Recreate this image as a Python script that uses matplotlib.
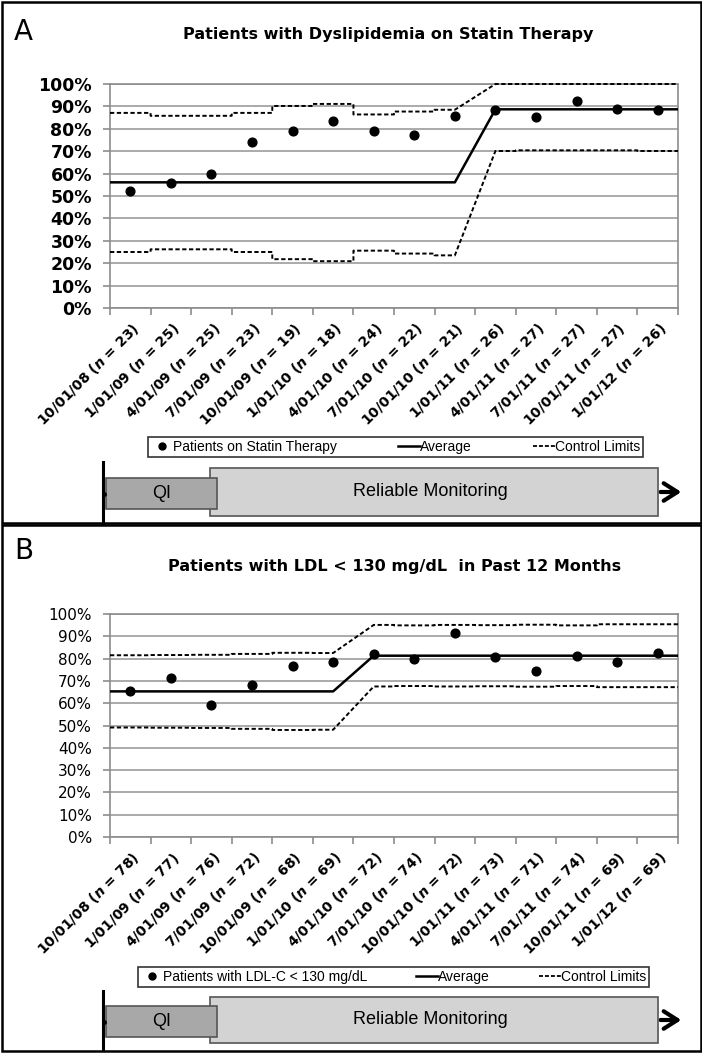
import matplotlib
matplotlib.use('Agg')
import matplotlib.pyplot as plt
import matplotlib.transforms as mtransforms
from matplotlib.patches import Rectangle
from matplotlib.lines import Line2D

plt.rcParams['mathtext.fontset'] = 'custom'
plt.rcParams['mathtext.it'] = 'DejaVu Sans:italic:bold'
plt.rcParams['mathtext.rm'] = 'DejaVu Sans:bold'

W, H = 702, 1053

# quarter start dates shared by both panels
dates = ['10/01/08', '1/01/09', '4/01/09', '7/01/09', '10/01/09', '1/01/10', '4/01/10',
         '7/01/10', '10/01/10', '1/01/11', '4/01/11', '7/01/11', '10/01/11', '1/01/12']

# panel A - statin therapy
n_a = [23, 25, 25, 23, 19, 18, 24, 22, 21, 26, 27, 27, 27, 26]
pct_a = [52.2, 56.0, 60.0, 73.9, 78.9, 83.3, 79.2, 77.3, 85.7, 88.5, 85.2, 92.6, 88.9, 88.5]
avg_a = [56.1] * 9 + [88.7] * 5
ucl_a = [87.1, 85.8, 85.8, 87.1, 90.2, 91.1, 86.4, 87.7, 88.5, 100, 100, 100, 100, 100]
lcl_a = [25.0, 26.2, 26.2, 25.0, 21.8, 20.9, 25.6, 24.3, 23.5, 70.1, 70.4, 70.4, 70.4, 70.1]
phase_a = [1] * 9 + [2] * 5

# panel B - LDL < 130
n_b = [78, 77, 76, 72, 68, 69, 72, 74, 72, 73, 71, 74, 69, 69]
pct_b = [65.4, 71.4, 59.2, 68.1, 76.5, 78.3, 81.9, 79.7, 91.7, 80.8, 74.6, 81.1, 78.3, 82.6]
avg_b = [65.3] * 6 + [81.3] * 8
ucl_b = [81.5, 81.6, 81.7, 82.1, 82.6, 82.5, 95.1, 94.9, 95.1, 95.0, 95.2, 94.9, 95.4, 95.4]
lcl_b = [49.1, 49.0, 48.9, 48.5, 48.0, 48.1, 67.5, 67.7, 67.5, 67.6, 67.4, 67.7, 67.2, 67.2]
phase_b = [1] * 6 + [2] * 8


def fx(px):
    return px / W


def fy(py):
    return 1 - py / H


def step_path(values, phases):
    """Horizontal run per category, slanted between phase centres"""
    xs, ys = [], []
    n = len(values)
    for i, v in enumerate(values):
        first = i == 0 or phases[i] != phases[i - 1]
        last = i == n - 1 or phases[i] != phases[i + 1]
        left = i + 0.5 if (first and i > 0) else i
        right = i + 0.5 if (last and i < n - 1) else i + 1
        xs += [left, right]
        ys += [v, v]
    return xs, ys


def draw_panel(fig, cfg):
    ax = fig.add_axes(cfg['rect'])
    ncat = len(dates)
    centers = [i + 0.5 for i in range(ncat)]

    for vals in (cfg['ucl'], cfg['lcl']):
        xs, ys = step_path(vals, cfg['phase'])
        ax.plot(xs, ys, color='k', ls='--', lw=1.4, dashes=(2.2, 1.3), clip_on=False, zorder=3)
    xs, ys = step_path(cfg['avg'], cfg['phase'])
    ax.plot(xs, ys, color='k', lw=1.8, zorder=4)
    ax.plot(centers, cfg['pct'], 'o', color='k', ms=6.3, ls='none', zorder=5, clip_on=False)

    ax.set_xlim(0, ncat)
    ax.set_ylim(0, 100)
    ax.set_yticks(range(0, 101, 10))
    ax.set_yticklabels([f'{v}%' for v in range(0, 101, 10)])
    ax.yaxis.grid(True, color='#9c9c9c', lw=1.2)
    ax.set_axisbelow(True)
    ax.set_xticks(centers)
    ax.set_xticklabels([f'{d} ($n$ = {k})' for d, k in zip(dates, cfg['n'])],
                       rotation=45, ha='right', va='top', rotation_mode='anchor',
                       fontsize=10, fontweight='bold')
    ax.set_xticks(range(ncat + 1), minor=True)
    ax.tick_params(axis='x', which='major', length=0, pad=9)
    ax.tick_params(axis='x', which='minor', length=5, color='#8c8c8c', width=1.2)
    ax.tick_params(axis='y', length=5, color='#8c8c8c', width=1.2, pad=8,
                   labelsize=cfg['ysize'])
    for lab in ax.get_yticklabels():
        lab.set_fontweight(cfg['yweight'])
    for sp in ax.spines.values():
        sp.set_color('#8c8c8c')
        sp.set_linewidth(1.2)

    fig.text(cfg['title_xy'][0], cfg['title_xy'][1], cfg['title'], ha='center', va='center',
             fontsize=11.5, fontweight='bold')
    fig.text(cfg['letter_xy'][0], cfg['letter_xy'][1], cfg['letter'], ha='left', va='center',
             fontsize=20)

    handles = [Line2D([], [], marker='o', color='k', ls='none', ms=5),
               Line2D([], [], color='k', lw=1.8),
               Line2D([], [], color='k', ls='--', lw=1.3, dashes=(2.2, 1.1))]
    leg = fig.legend(handles, [cfg['legend_label'], 'Average', 'Control Limits'],
                     loc='lower left', bbox_to_anchor=cfg['legend_box'],
                     bbox_transform=fig.transFigure, mode='expand', ncol=3,
                     fancybox=False, edgecolor='k', handlelength=1.6, handletextpad=0.0,
                     borderpad=0.2, borderaxespad=0, columnspacing=1.0,
                     prop={'family': 'Liberation Sans', 'size': 10})
    leg.get_frame().set_linewidth(1.2)

    # timeline under the chart, x follows the category axis
    tr = mtransforms.blended_transform_factory(ax.transData, fig.transFigure)
    tl = cfg['timeline']
    rm = Rectangle((2.46, tl['rm'][0]), 13.5 - 2.46, tl['rm'][1] - tl['rm'][0], transform=tr,
                   fc='#d3d3d3', ec='#555555', lw=1.2, clip_on=False)
    qi = Rectangle((-0.1, tl['qi'][0]), 2.64 + 0.1, tl['qi'][1] - tl['qi'][0], transform=tr,
                   fc='#a8a8a8', ec='#555555', lw=1.2, clip_on=False)
    fig.add_artist(rm)
    fig.add_artist(qi)
    fig.add_artist(Line2D([-0.17, -0.17], tl['vline'], transform=tr, color='k', lw=2.2))
    qmid = (tl['qi'][0] + tl['qi'][1]) / 2
    fig.add_artist(Line2D([-0.14], [qmid], transform=tr, marker='o', color='k', ms=2.5))
    ymid = (tl['rm'][0] + tl['rm'][1]) / 2
    fig.text(1.27, qmid, 'QI', transform=tr, ha='center',
             va='center', fontsize=13, family='Liberation Sans')
    fig.text(7.9, ymid, 'Reliable Monitoring', transform=tr, ha='center', va='center',
             fontsize=13, family='Liberation Sans')
    ax.annotate('', xy=(14.15, ymid), xytext=(13.5, ymid), xycoords=tr, textcoords=tr,
                arrowprops=dict(arrowstyle='->,head_length=0.55,head_width=0.35',
                                lw=3, color='k', mutation_scale=18))

    # panel frame
    fig.add_artist(Rectangle((fx(1.5), cfg['frame'][1]), fx(699), cfg['frame'][0] - cfg['frame'][1],
                             transform=fig.transFigure, fill=False, ec='k', lw=1.8))
    return ax


fig = plt.figure(figsize=(W / 100, H / 100), dpi=100)

draw_panel(fig, {
    'rect': [fx(110), fy(308), fx(568), (308 - 84) / H],
    'n': n_a, 'pct': pct_a, 'avg': avg_a, 'ucl': ucl_a, 'lcl': lcl_a, 'phase': phase_a,
    'ysize': 12.5, 'yweight': 'bold',
    'title': 'Patients with Dyslipidemia on Statin Therapy', 'title_xy': (fx(388), fy(35)),
    'letter': 'A', 'letter_xy': (fx(14), fy(32)),
    'legend_label': 'Patients on Statin Therapy',
    'legend_box': (fx(148), fy(457), fx(643 - 148), (457 - 435) / H),
    'timeline': {'vline': (fy(462), fy(523)), 'qi': (fy(509), fy(478)), 'rm': (fy(516), fy(468))},
    'frame': (fy(1.5), fy(523)),
})

draw_panel(fig, {
    'rect': [fx(110), fy(837), fx(568), (837 - 614) / H],
    'n': n_b, 'pct': pct_b, 'avg': avg_b, 'ucl': ucl_b, 'lcl': lcl_b, 'phase': phase_b,
    'ysize': 11, 'yweight': 'normal',
    'title': 'Patients with LDL < 130 mg/dL  in Past 12 Months', 'title_xy': (fx(395), fy(567)),
    'letter': 'B', 'letter_xy': (fx(14), fy(551)),
    'legend_label': 'Patients with LDL-C < 130 mg/dL',
    'legend_box': (fx(138), fy(987), fx(649 - 138), (987 - 963) / H),
    'timeline': {'vline': (fy(991), fy(1050)), 'qi': (fy(1037), fy(1006)), 'rm': (fy(1043), fy(997))},
    'frame': (fy(525), fy(1051)),
})

fig.savefig('out.png', dpi=100)
